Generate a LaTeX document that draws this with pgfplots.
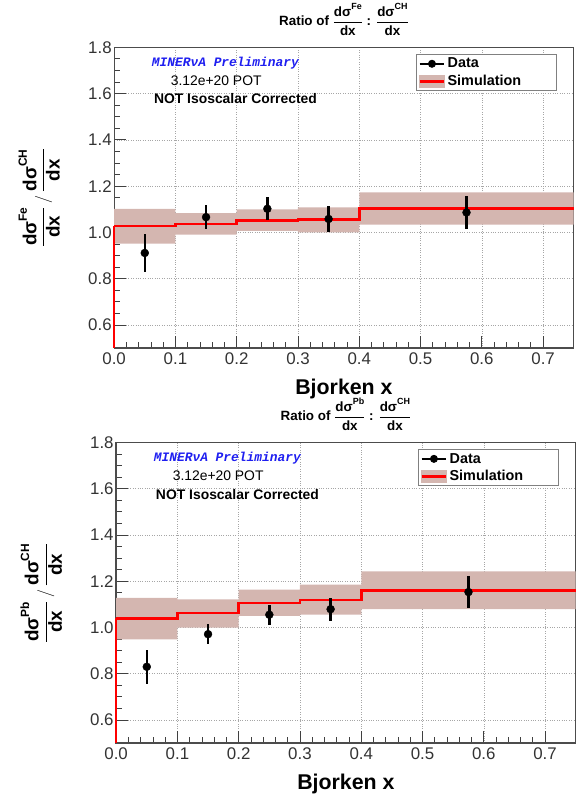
\documentclass[border=0pt]{standalone}
\usepackage{fontspec}
\setmainfont{Liberation Sans}
\setmonofont{Liberation Mono}
\usepackage{pgfplots}
\usepgfplotslibrary{fillbetween}
\pgfplotsset{compat=1.18}
\usepackage{pgfplotstable}

\definecolor{bandcol}{RGB}{212,182,176}
\definecolor{minblue}{RGB}{30,30,240}

% Fe / CH
\pgfplotstableread{
x     y     e
0.05  0.911 0.082
0.15  1.066 0.052
0.25  1.102 0.049
0.35  1.058 0.055
0.575 1.086 0.072
}\dataFe
\pgfplotstableread{
x    m     lo    hi
0.0  1.027 0.951 1.102
0.1  1.037 0.990 1.083
0.2  1.052 1.007 1.099
0.3  1.055 1.000 1.108
0.4  1.104 1.033 1.173
0.75 1.104 1.033 1.173
}\simFe

% Pb / CH
\pgfplotstableread{
x     y     e
0.05  0.830 0.073
0.15  0.971 0.044
0.25  1.055 0.043
0.35  1.079 0.050
0.575 1.153 0.068
}\dataPb
\pgfplotstableread{
x    m     lo    hi
0.0  1.039 0.948 1.128
0.1  1.062 0.999 1.121
0.2  1.106 1.050 1.164
0.3  1.119 1.056 1.185
0.4  1.160 1.079 1.242
0.75 1.160 1.079 1.242
}\simPb

% fraction d sigma^{sup} / dx
\newcommand{\fr}[2]{$\displaystyle\frac{\mbox{#1}}{\mbox{#2}}$}
\newcommand{\sy}[2]{dσ\raisebox{0.5em}{\fontsize{#2}{#2}\selectfont #1}}
\newcommand{\legtxt}[1]{\makebox[106pt][l]{#1}}

\pgfplotsset{
  rootpanel/.style={
    scale only axis, width=463pt, height=303pt, anchor=south west,
    xmin=0, xmax=0.75, ymin=0.5, ymax=1.8,
    xtick={0,0.1,0.2,0.3,0.4,0.5,0.6,0.7},
    ytick={0.6,0.8,1.0,1.2,1.4,1.6,1.8},
    minor x tick num=4, minor y tick num=3,
    tick align=inside, xtick pos=bottom, ytick pos=left,
    major tick length=12pt, minor tick length=6pt,
    tick style={black!75, line width=0.8pt},
    axis line style={black!70, line width=1.3pt},
    grid=major, grid style={dotted, gray!70, line width=0.6pt},
    clip=false,
    /pgf/number format/assume math mode=true,
    /pgf/number format/fixed, /pgf/number format/fixed zerofill,
    /pgf/number format/precision=1,
    tick label style={font=\fontsize{17}{18}\selectfont, black!80},
    xticklabel style={yshift=-1pt},
    yticklabel style={xshift=1pt},
    xlabel={Bjorken x},
    xlabel style={at={(axis description cs:0.5,-0.135)}, anchor=center,
      font=\bfseries\fontsize{21.5}{24}\selectfont},
    ylabel style={at={(axis description cs:-0.163,0.5)}, anchor=center,
      font=\bfseries\fontsize{19}{22}\selectfont},
    title style={at={(axis description cs:0.5,1)}, anchor=south, yshift=2pt,
      font=\bfseries\fontsize{13.5}{15}\selectfont},
    legend style={at={(axis description cs:0.963,0.977)}, anchor=north east,
      draw=black!50, line width=0.8pt, fill=white,
      font=\bfseries\fontsize{14.5}{16}\selectfont, inner sep=1.5pt,
      row sep=2pt, cells={anchor=west}},
  },
  datalegend/.style={legend image code/.code={
      \draw[black, line width=2pt] (0pt,0pt) -- (25pt,0pt);
      \fill[black] (12.5pt,0pt) circle (3.6pt);}},
  simlegend/.style={legend image code/.code={
      \fill[bandcol] (0pt,-6pt) rectangle (25pt,6pt);
      \draw[red, line width=2.6pt] (0pt,0pt) -- (25pt,0pt);}},
  dataplot/.style={only marks, mark=*, mark size=4pt, black,
    error bars/y dir=both, error bars/y explicit,
    error bars/error bar style={line width=2.4pt}, error bars/error mark=none},
}

\begin{document}
\begin{tikzpicture}
\path (0,0) rectangle (587pt,797pt);

% ---------------- Fe ----------------
\begin{axis}[rootpanel, at={(115pt,452pt)},
  title={Ratio of \fr{\sy{Fe}{9}}{dx} : \fr{\sy{CH}{9}}{dx}},
  ylabel={\fr{\sy{Fe}{12}}{dx}\,$/$\,\fr{\sy{CH}{12}}{dx}},
]
\addplot[name path=hiFe, draw=none, const plot, forget plot] table[x=x, y=hi]{\simFe};
\addplot[name path=loFe, draw=none, const plot, forget plot] table[x=x, y=lo]{\simFe};
\addplot[bandcol, forget plot] fill between[of=hiFe and loFe];
\addplot[red, line width=2.6pt, forget plot] coordinates {(0,0.5) (0,1.027)};
\addplot[red, line width=2.6pt, const plot, forget plot] table[x=x, y=m]{\simFe};
\addplot[forget plot, dataplot] table[x=x, y=y, y error=e]{\dataFe};
\addlegendimage{datalegend}
\addlegendentry{\legtxt{Data}}
\addlegendimage{simlegend}
\addlegendentry{\legtxt{Simulation}}
\node[minblue, font=\ttfamily\bfseries\itshape\fontsize{13}{14}\selectfont]
  at (axis description cs:0.242,0.947) {MINERνA Preliminary};
\node[font=\fontsize{14}{15}\selectfont] at (axis description cs:0.222,0.888) {3.12e+20 POT};
\node[font=\bfseries\fontsize{14}{15}\selectfont] at (axis description cs:0.264,0.828) {NOT Isoscalar Corrected};
\end{axis}

% ---------------- Pb ----------------
\begin{axis}[rootpanel, at={(117pt,54pt)},
  title={Ratio of \fr{\sy{Pb}{9}}{dx} : \fr{\sy{CH}{9}}{dx}},
  ylabel={\fr{\sy{Pb}{12}}{dx}\,$/$\,\fr{\sy{CH}{12}}{dx}},
]
\addplot[name path=hiPb, draw=none, const plot, forget plot] table[x=x, y=hi]{\simPb};
\addplot[name path=loPb, draw=none, const plot, forget plot] table[x=x, y=lo]{\simPb};
\addplot[bandcol, forget plot] fill between[of=hiPb and loPb];
\addplot[red, line width=2.6pt, forget plot] coordinates {(0,0.5) (0,1.039)};
\addplot[red, line width=2.6pt, const plot, forget plot] table[x=x, y=m]{\simPb};
\addplot[forget plot, dataplot] table[x=x, y=y, y error=e]{\dataPb};
\addlegendimage{datalegend}
\addlegendentry{\legtxt{Data}}
\addlegendimage{simlegend}
\addlegendentry{\legtxt{Simulation}}
\node[minblue, font=\ttfamily\bfseries\itshape\fontsize{13}{14}\selectfont]
  at (axis description cs:0.242,0.947) {MINERνA Preliminary};
\node[font=\fontsize{14}{15}\selectfont] at (axis description cs:0.222,0.888) {3.12e+20 POT};
\node[font=\bfseries\fontsize{14}{15}\selectfont] at (axis description cs:0.264,0.828) {NOT Isoscalar Corrected};
\end{axis}
\end{tikzpicture}
\end{document}
